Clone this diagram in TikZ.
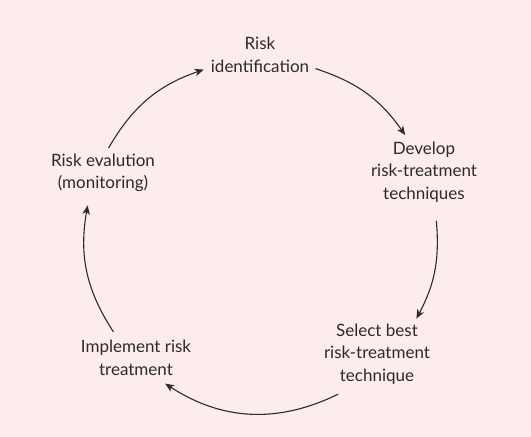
\documentclass[tikz,border=0pt]{standalone}
\usepackage{fontspec}
\setmainfont{Lato}
\usepackage{xcolor}
\usetikzlibrary{arrows.meta}
\definecolor{bgpink}{RGB}{253,236,236}
\definecolor{ink}{RGB}{45,42,43}

\begin{document}
\begin{tikzpicture}[x=1pt,y=1pt,
stage/.style={align=center,text=ink,inner sep=0pt,font=\fontsize{17}{22.5}\selectfont},
flow/.style={-{Stealth[length=9pt,width=7.5pt,inset=2.5pt]},line width=1.1pt,draw=ink}]
 \fill[bgpink] (0,0) rectangle (531,437);
 \node[stage] (id) at (260,382) {Risk\\identification};
 \node[stage] (dev) at (424,265) {Develop\\risk-treatment\\techniques};
 \node[stage] (sel) at (377,83) {Select best\\risk-treatment\\technique};
 \node[stage] (imp) at (136,79) {Implement risk\\treatment};
 \node[stage] (ev) at (103,264) {Risk evalution\\(monitoring)};
 % ends of the arcs on one circle
 \begin{scope}[shift={(261,201)}]
 \foreach \n/\a/\b in {1/150/109,2/72/35,3/5/-28,4/-64/-123,5/213/170}
   {\coordinate (s\n) at (\a:176); \coordinate (e\n) at (\b:176);}
 \end{scope}
 \foreach \n/\t in {1/20.5,2/18.5,3/16.5,4/29.5,5/21.5}
   \draw[flow] (s\n) to[bend left=\t] (e\n);
\end{tikzpicture}
\end{document}
